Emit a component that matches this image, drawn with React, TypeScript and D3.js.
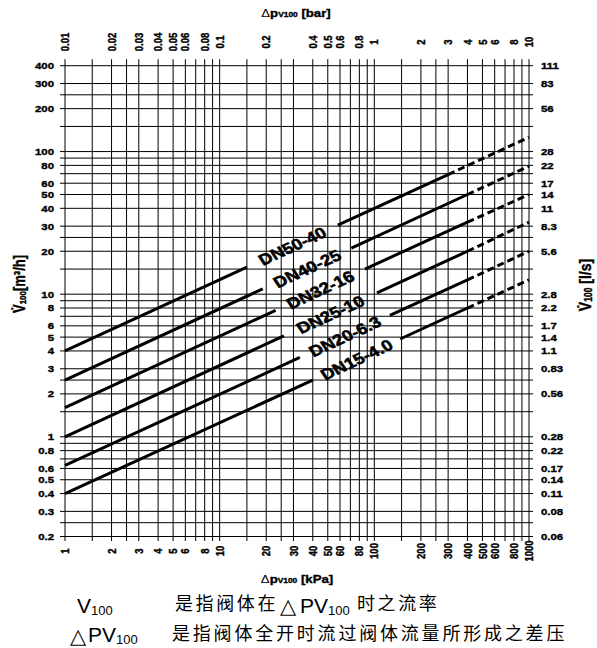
import React from "react";
import * as d3 from "d3";

const W = 597;
const H = 648;

// Δp ticks: kPa on the bottom, bar on the top
const kpaTicks = [1, 2, 3, 4, 5, 6, 8, 10, 20, 30, 40, 50, 60, 80, 100, 200, 300, 400, 500, 600, 800, 1000];
const barTicks = [0.01, 0.02, 0.03, 0.04, 0.05, 0.06, 0.08, 0.1, 0.2, 0.4, 0.5, 0.6, 0.8, 1, 2, 3, 4, 5, 6, 8, 10];
// flow ticks: m³/h on the left, l/s labels on the right (same rows)
const flowTicks = [0.2, 0.3, 0.4, 0.5, 0.6, 0.8, 1, 2, 3, 4, 5, 6, 8, 10, 20, 30, 40, 50, 60, 80, 100, 200, 300, 400];
const lsLabels = ["0.06", "0.08", "0.11", "0.14", "0.17", "0.22", "0.28", "0.56", "0.83", "1.1", "1.4", "1.7", "2.2", "2.8", "5.6", "8.3", "11", "14", "17", "22", "28", "56", "83", "111"];
// grid lines inside each decade
const gridSteps = [1, 1.5, 2, 2.5, 3, 4, 5, 6, 7, 8, 9];

const lineNames = ["DN50-40", "DN40-25", "DN32-16", "DN25-10", "DN20-6.3", "DN15-4.0"];
// break points of each line: start, label gap start, label gap end, dashed start, end
const lineDp = [
  [1, 15, 58, 300, 1000],
  [1, 19, 71, 400, 1000],
  [1, 23, 87, 400, 1000],
  [1, 26, 104, 400, 1000],
  [1, 33, 126, 400, 1000],
  [1, 40, 147, 400, 1000],
];
const lineFlow = [
  [4, 15.5, 30.5, 69, 126],
  [2.5, 10.9, 21, 50, 79],
  [1.6, 7.7, 15, 32, 50],
  [1, 5.1, 10.2, 20, 32],
  [0.63, 3.6, 7.1, 12.6, 20],
  [0.4, 2.5, 4.85, 8, 12.6],
];

const SX = 1.2; // the original lettering is a bit wide
const FONT = "'Liberation Sans', Arial, sans-serif";
const CJK = "'Noto Sans CJK SC', sans-serif";

const fmt = (v: number) => String(+v.toFixed(3));

export default function App() {
  const x = d3.scaleLog().domain([1, 1000]).range([65, 529]);
  const xBar = d3.scaleLog().domain([0.01, 10]).range([65, 529]);
  const y = d3.scaleLog().domain([0.2, 400]).range([536.5, 65.7]);
  const [xl, xr] = x.range();
  const [yb, yt] = y.range();

  const xGrid = [1, 10, 100].flatMap((d) => gridSteps.map((s) => s * d)).concat([1000]);
  const yGrid = [0.1, 1, 10, 100]
    .flatMap((d) => gridSteps.map((s) => s * d))
    .filter((v) => v > 0.2 - 1e-9 && v < 400 + 1e-9);

  const line = d3
    .line<number[]>()
    .x((d) => x(d[0]))
    .y((d) => y(d[1]));

  // bold labels look heavier in the scan, thicken them a little
  const heavy = { stroke: "#000", strokeWidth: 0.35 };

  return (
    <svg
      width={W}
      height={H}
      style={{ position: "absolute", left: 0, top: 0, background: "#fff" }}
    >
      <rect width={W} height={H} fill="#fff" />

      {/* grid */}
      <g stroke="#000" strokeWidth={1}>
        {xGrid.map((v, i) => (
          <line key={"vx" + i} x1={x(v)} x2={x(v)} y1={yt - 6.5} y2={yb + 4.5} />
        ))}
        {yGrid.map((v, i) => (
          <line key={"hy" + i} x1={xl - 5} x2={xr + 4} y1={y(v)} y2={y(v)} />
        ))}
      </g>

      {/* valve lines */}
      <g fill="none" stroke="#000" strokeWidth={3}>
        {lineNames.map((name, i) => {
          const pts = lineDp[i].map((dp, j) => [dp, lineFlow[i][j]]);
          return (
            <g key={name}>
              <path d={line([pts[0], pts[1]]) || ""} />
              <path d={line([pts[2], pts[3]]) || ""} />
              <path d={line([pts[3], pts[4]]) || ""} strokeDasharray="7,4" />
            </g>
          );
        })}
      </g>

      {/* line labels */}
      {lineNames.map((name, i) => {
        const ax = x(lineDp[i][1]);
        const ay = y(lineFlow[i][1]);
        const bx = x(lineDp[i][2]);
        const by = y(lineFlow[i][2]);
        const ang = (Math.atan2(by - ay, (bx - ax) / SX) * 180) / Math.PI;
        return (
          <text
            key={"lab" + name}
            transform={`translate(${(ax + bx) / 2},${(ay + by) / 2}) scale(${SX},1) rotate(${ang})`}
            textAnchor="middle"
            dy="0.36em"
            fontFamily={FONT}
            fontWeight="bold"
            fontSize={15.5}
            {...heavy}
            strokeWidth={0.5}
          >
            {name}
          </text>
        );
      })}

      {/* tick labels */}
      <g fontFamily={FONT} fontWeight="bold" fontSize={9.5} {...heavy}>
        {barTicks.map((v) => (
          <text
            key={"b" + v}
            transform={`translate(${xBar(v)},42) scale(${SX},1) rotate(-90)`}
            textAnchor="middle"
            dy="0.36em"
          >
            {fmt(v)}
          </text>
        ))}
        {kpaTicks.map((v) => (
          <text
            key={"k" + v}
            transform={`translate(${x(v)},551) scale(${SX},1) rotate(-90)`}
            textAnchor="middle"
            dy="0.36em"
          >
            {fmt(v)}
          </text>
        ))}
        {flowTicks.map((v) => (
          <text
            key={"f" + v}
            transform={`translate(54,${y(v)}) scale(${SX},1)`}
            textAnchor="end"
            dy="0.36em"
          >
            {fmt(v)}
          </text>
        ))}
        {flowTicks.map((v, i) => (
          <text
            key={"l" + v}
            transform={`translate(541,${y(v)}) scale(${SX},1)`}
            textAnchor="start"
            dy="0.36em"
          >
            {lsLabels[i]}
          </text>
        ))}
      </g>

      {/* axis titles */}
      <g fontFamily={FONT} fontWeight="bold" {...heavy}>
        <text transform={`translate(296,17) scale(${SX},1)`} textAnchor="middle" fontSize={11}>
          <tspan fontWeight="normal" strokeWidth={0}>Δ</tspan>
          <tspan>p</tspan>
          <tspan fontSize={7}>V100</tspan>
          <tspan> [bar]</tspan>
        </text>
        <text transform={`translate(297,583) scale(${SX},1)`} textAnchor="middle" fontSize={11}>
          <tspan fontWeight="normal" strokeWidth={0}>Δ</tspan>
          <tspan>p</tspan>
          <tspan fontSize={7}>V100</tspan>
          <tspan> [kPa]</tspan>
        </text>
        <text transform={`translate(25,284) scale(${SX},1) rotate(-90)`} textAnchor="middle" fontSize={13}>
          <tspan>V̇</tspan>
          <tspan fontSize={8} dy={1}>100</tspan>
          <tspan dy={-1}>[m³/h]</tspan>
        </text>
        <text transform={`translate(591,285) scale(${SX},1) rotate(-90)`} textAnchor="middle" fontSize={14}>
          <tspan>V̇</tspan>
          <tspan fontSize={8.5} dy={1}>100</tspan>
          <tspan dy={-1}> [l/s]</tspan>
        </text>
      </g>

      {/* notes */}
      <g fontFamily={FONT}>
        <text x={77} y={613} fontSize={21}>
          V<tspan fontSize={13} dy={1.5}>100</tspan>
        </text>
        <text x={175} y={610} fontFamily={CJK} fontSize={18} letterSpacing={2.6}>
          是指阀体在
        </text>
        <text x={280} y={613} fontFamily="'DejaVu Sans', sans-serif" fontSize={21}>
          △
        </text>
        <text x={300} y={613} fontSize={21}>
          PV<tspan fontSize={13} dy={1.5}>100</tspan>
        </text>
        <text x={357} y={610} fontFamily={CJK} fontSize={18} letterSpacing={2.6}>
          时之流率
        </text>

        <text x={70} y={643} fontFamily="'DejaVu Sans', sans-serif" fontSize={21}>
          △
        </text>
        <text x={88} y={642} fontSize={21}>
          PV<tspan fontSize={13} dy={1.5}>100</tspan>
        </text>
        <text x={172} y={640} fontFamily={CJK} fontSize={18} letterSpacing={2.8}>
          是指阀体全开时流过阀体流量所形成之差压
        </text>
      </g>
    </svg>
  );
}
